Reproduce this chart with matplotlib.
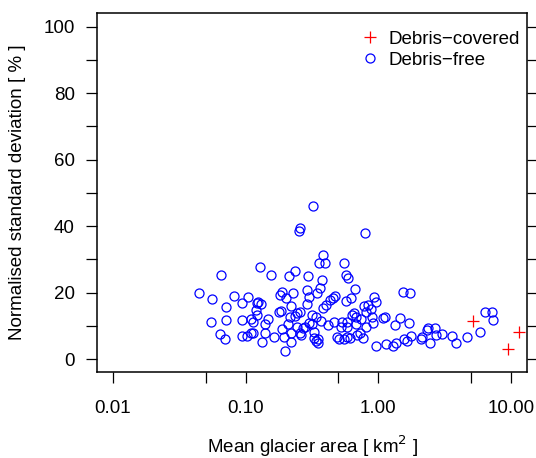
import numpy as np
import matplotlib
matplotlib.use("Agg")
import matplotlib.pyplot as plt

plt.rcParams['font.family'] = ['Liberation Sans', 'DejaVu Sans']

# Debris-free glaciers: mean area [km2], normalised std [%]
free_area = [
    0.0448, 0.0553, 0.0646, 0.0706, 0.0811, 0.0543, 0.0706, 0.0635, 0.0693, 0.0933,
    0.1035, 0.0933, 0.0933, 0.1018, 0.1091, 0.1130, 0.1091, 0.1130, 0.1191, 0.1211,
    0.1299, 0.1233, 0.1211, 0.1277, 0.1393, 0.1393, 0.1322, 0.1468, 0.1547, 0.1630,
    0.1778, 0.1841, 0.1809, 0.1874, 0.2009, 0.1874, 0.1975, 0.1941, 0.2081, 0.2118,
    0.2350, 0.2193, 0.2270, 0.2154, 0.2193, 0.2193, 0.2350, 0.2434, 0.2565, 0.2434,
    0.2565, 0.2610, 0.2703, 0.2799, 0.2899, 0.3002, 0.2899, 0.2950, 0.3002, 0.3162,
    0.3274, 0.3162, 0.3391, 0.3274, 0.3391, 0.3511, 0.3511, 0.3450, 0.3636, 0.3765,
    0.3573, 0.3831, 0.3967, 0.3700, 0.3831, 0.4037, 0.4180, 0.4329, 0.4561, 0.4723,
    0.4642, 0.4891, 0.5064, 0.5244, 0.5337, 0.5526, 0.5723, 0.5925, 0.5723, 0.6244,
    0.6695, 0.5824, 0.5824, 0.5526, 0.5824, 0.6136, 0.6353, 0.6579, 0.6813, 0.6813,
    0.6933, 0.7305, 0.7700, 0.7434, 0.7834, 0.8112, 0.8112, 0.8400, 0.8851, 0.9006,
    0.9165, 0.9326, 0.9656, 0.7972, 0.9656, 1.091, 1.130, 1.150, 1.299, 1.369,
    1.345, 1.468, 1.574, 1.659, 1.717, 1.778, 1.547, 1.747, 2.081, 2.118,
    2.310, 2.350, 2.434, 2.656, 2.703, 3.002, 3.573, 3.831, 4.642, 5.824,
    6.353, 7.179, 7.305, 0.3218, 0.2565, 0.2521,
]
free_std = [
    19.8, 18.0, 25.3, 15.6, 18.9, 11.1, 11.7, 7.5, 6.0, 16.8,
    18.6, 11.7, 6.9, 6.9, 7.8, 7.8, 12.0, 11.1, 14.7, 16.8,
    16.5, 17.1, 13.2, 27.7, 10.5, 7.8, 5.1, 12.0, 25.3, 6.6,
    14.1, 14.4, 19.2, 20.2, 18.3, 9.0, 2.4, 6.6, 10.5, 25.0,
    26.5, 15.9, 19.8, 12.6, 7.8, 5.1, 12.9, 13.8, 14.1, 9.6,
    7.8, 7.2, 9.3, 9.6, 20.8, 18.6, 16.5, 25.0, 10.8, 10.5,
    8.1, 13.2, 12.6, 6.3, 5.4, 6.0, 4.8, 19.8, 21.4, 23.8,
    28.9, 31.3, 28.9, 11.4, 15.3, 16.2, 10.2, 17.7, 18.3, 18.9,
    11.1, 6.6, 6.0, 9.6, 11.1, 28.9, 25.3, 24.4, 17.4, 18.3,
    21.1, 11.1, 9.6, 6.0, 6.6, 6.3, 13.2, 13.8, 12.6, 10.5,
    7.2, 7.8, 6.3, 12.0, 15.9, 14.1, 9.6, 16.2, 15.0, 12.6,
    10.8, 18.6, 17.1, 37.9, 3.9, 12.3, 12.6, 4.5, 3.9, 4.8,
    10.2, 12.3, 6.0, 5.4, 10.8, 6.9, 20.2, 19.8, 6.0, 6.6,
    8.7, 9.3, 4.8, 9.3, 7.2, 7.5, 6.9, 4.8, 6.6, 8.1,
    14.1, 14.1, 11.7, 46.0, 39.4, 38.5,
]

# Debris-covered glaciers
cov_area = [5.152, 9.49, 11.50]
cov_std = [11.4, 3.0, 8.1]

x_major = [0.01, 0.1, 1.0, 10.0]
x_major_labels = ["0.01", "0.10", "1.00", "10.00"]
x_minor = [0.05, 0.5, 5.0]
y_major = [0, 20, 40, 60, 80, 100]
y_minor = [10, 30, 50, 70, 90]

FS = 13.5

fig = plt.figure(figsize=(5.36, 4.58), dpi=100)
ax = fig.add_axes([97/536, 1 - 372/458, 430/536, 359/458])

ax.plot(free_area, free_std, linestyle='none', marker='o', markersize=6.5,
        markerfacecolor='none', markeredgecolor='#0000FF', markeredgewidth=0.9,
        label='Debris\u2212free')
ax.plot(cov_area, cov_std, linestyle='none', marker='+', markersize=8.5,
        color='#FF0000', markeredgewidth=0.9, label='Debris\u2212covered')

ax.set_xscale('log')
ax.set_xlim(10 ** -2.121, 10 ** 1.121)
ax.set_ylim(-3.9, 104.1)

ax.set_xticks(x_major)
ax.set_xticklabels(x_major_labels)
ax.set_xticks(x_minor, minor=True)
ax.xaxis.set_minor_formatter(matplotlib.ticker.NullFormatter())
ax.set_yticks(y_major)
ax.set_yticklabels([str(v) for v in y_major])
ax.set_yticks(y_minor, minor=True)

ax.tick_params(axis='both', which='both', direction='out', length=8, width=0.9,
               labelsize=FS, colors='black')
ax.tick_params(axis='x', which='both', pad=12)
ax.tick_params(axis='y', which='both', pad=8, right=True, labelright=False)

for s in ax.spines.values():
    s.set_linewidth(1.1)

ax.set_xlabel('Mean glacier area [ km$^2$ ]', fontsize=FS)
ax.set_ylabel('Normalised standard deviation [ % ]', fontsize=FS)
ax.xaxis.set_label_coords(0.5, -0.172)
ax.yaxis.set_label_coords(-0.166, 0.5)

handles, labels = ax.get_legend_handles_labels()
ax.legend(handles[::-1], labels[::-1], loc='upper left',
          bbox_to_anchor=((344 - 97) / 430, (372 - 14) / 359),
          frameon=False, fontsize=FS, handlelength=1.0, handletextpad=0.5,
          labelspacing=0.2, borderpad=0.4)

fig.savefig('out.png', dpi=100)
